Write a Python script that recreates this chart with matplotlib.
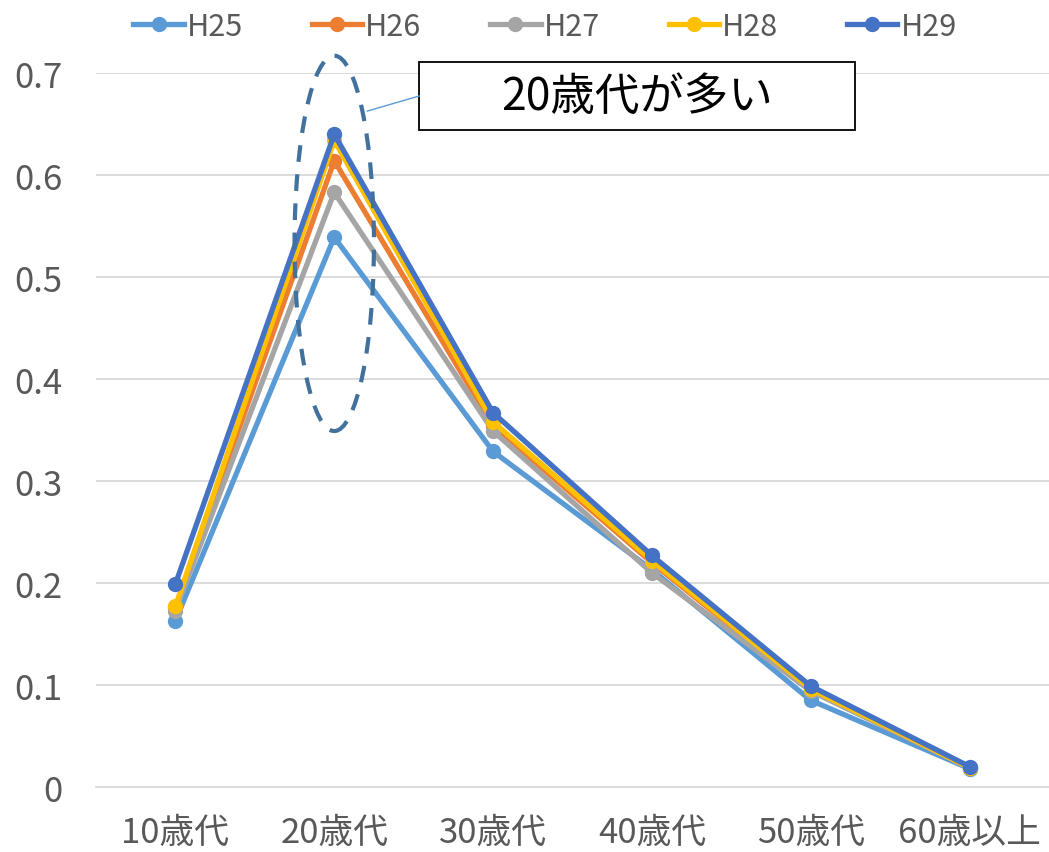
import matplotlib
matplotlib.use("Agg")
import matplotlib.pyplot as plt
from matplotlib.patches import Ellipse, Rectangle

plt.rcParams['font.family'] = ['Noto Sans CJK JP', 'DejaVu Sans']

# 年代区分
categories = ['10歳代', '20歳代', '30歳代', '40歳代', '50歳代', '60歳以上']

# 年度ごとの値
h25 = [0.163, 0.539, 0.329, 0.213, 0.085, 0.018]
h26 = [0.176, 0.614, 0.354, 0.220, 0.095, 0.019]
h27 = [0.173, 0.583, 0.349, 0.210, 0.094, 0.019]
h28 = [0.177, 0.634, 0.358, 0.222, 0.096, 0.019]
h29 = [0.199, 0.640, 0.367, 0.227, 0.099, 0.020]

series_names = ['H25', 'H26', 'H27', 'H28', 'H29']
series_vals = [h25, h26, h27, h28, h29]
colors = ['#5B9BD5', '#ED7D31', '#A5A5A5', '#FFC000', '#4472C4']

yticks = [0, 0.1, 0.2, 0.3, 0.4, 0.5, 0.6, 0.7]
ytick_labels = ['0', '0.1', '0.2', '0.3', '0.4', '0.5', '0.6', '0.7']

fig = plt.figure(figsize=(10.49, 8.53), dpi=100)
ax = fig.add_axes([0.0915, 0.0762, 0.9085, 0.837])

x = list(range(len(categories)))
for name, vals, c in zip(series_names, series_vals, colors):
    ax.plot(x, vals, color=c, lw=3.8, marker='o', ms=10, label=name,
            solid_joinstyle='round', zorder=3)

ax.set_xlim(-0.5, len(categories) - 0.5)
ax.set_ylim(0, 0.7)
ax.set_yticks(yticks)
ax.set_yticklabels(ytick_labels)
ax.set_xticks(x)
ax.set_xticklabels(categories)
ax.tick_params(axis='both', length=0, labelsize=25, colors='#595959')
ax.tick_params(axis='x', pad=20)
ax.tick_params(axis='y', pad=24)
ax.grid(axis='y', color='#D9D9D9', lw=1.3, zorder=0)
for s in ['left', 'right', 'top']:
    ax.spines[s].set_visible(False)
ax.spines['bottom'].set_color('#D9D9D9')
ax.spines['bottom'].set_linewidth(1.3)

# 20歳代を囲む楕円
ell = Ellipse((1, 0.533), 0.50, 0.368, fill=False, ls=(0, (4, 3)),
              lw=3, ec='#41719C', clip_on=False, zorder=4)
ax.add_patch(ell)

# 注釈ボックス
box = Rectangle((2.906 - 1.37, 0.6775 - 0.0333), 2.74, 0.0667, fc='white',
                ec='black', lw=1.3, clip_on=False, zorder=5)
ax.add_patch(box)
ax.text(2.906, 0.6775, '20歳代が多い', fontsize=32, ha='center', va='center',
        color='black', zorder=6)
ax.plot([1.208, 1.535], [0.6627, 0.6775], color='#5B9BD5', lw=1,
        clip_on=False, zorder=5)

leg = fig.legend(loc='center', bbox_to_anchor=(545 / 1049, 0.968), ncol=5,
                 frameon=False, fontsize=22, handlelength=1.65,
                 columnspacing=2.25, handletextpad=0.1)
for t in leg.get_texts():
    t.set_color('#595959')

fig.savefig('out.png', dpi=100)
